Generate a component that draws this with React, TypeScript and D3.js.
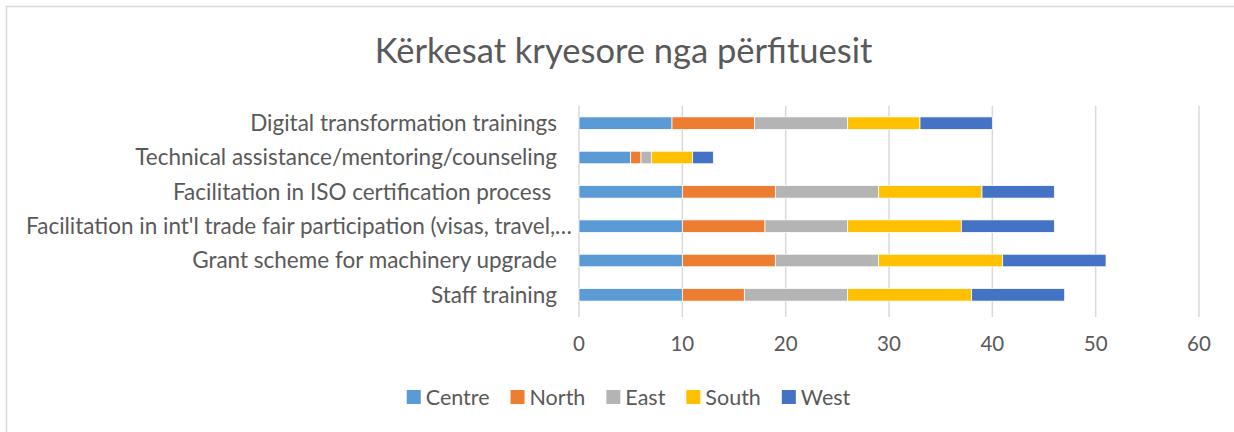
import React, { useEffect, useRef } from "react";
import * as d3 from "d3";

const title = "Kërkesat kryesore nga përfituesit";
const categories = [
  "Digital transformation trainings",
  "Technical assistance/mentoring/counseling",
  "Facilitation in ISO certification process ",
  "Facilitation in int'l trade fair participation (visas, travel,…",
  "Grant scheme for machinery upgrade",
  "Staff training",
];
const seriesNames = ["Centre", "North", "East", "South", "West"];
const centre = [9, 5, 10, 10, 10, 10];
const north = [8, 1, 9, 8, 9, 6];
const east = [9, 1, 10, 8, 10, 10];
const south = [7, 4, 10, 11, 12, 12];
const west = [7, 2, 7, 9, 10, 9];
const xTicks = [0, 10, 20, 30, 40, 50, 60];
const colors = ["#5B9BD5", "#ED7D31", "#B4B4B4", "#FFC000", "#4472C4"];

const W = 1234;
const H = 432;
const FONT = "Lato, 'Open Sans', sans-serif";
const TXT = "#595959";

export default function App() {
  const ref = useRef<SVGSVGElement>(null);
  useEffect(() => {
    const svg = d3.select(ref.current);
    svg.selectAll("*").remove();

    // chart border
    svg.append("rect").attr("x", 6.5).attr("y", 6.5).attr("width", W + 20).attr("height", H + 20)
      .attr("fill", "#fff").attr("stroke", "#d9d9d9").attr("stroke-width", 1.5);

    const x = d3.scaleLinear().domain([0, 60]).range([579, 1199]);
    const y = d3.scaleBand<string>().domain(categories).range([106, 312]).paddingInner(0.635).paddingOuter(0.3175);

    // title
    svg.append("text").attr("x", 623.5).attr("y", 63).attr("text-anchor", "middle")
      .attr("font-family", FONT).attr("font-size", 34.5).attr("fill", TXT).text(title);

    // gridlines
    svg.append("g").selectAll("line").data(xTicks).join("line")
      .attr("x1", (d) => x(d)).attr("x2", (d) => x(d)).attr("y1", 106).attr("y2", 317)
      .attr("stroke", "#d9d9d9").attr("stroke-width", 1.5);

    // tick labels
    svg.append("g").selectAll("text").data(xTicks).join("text")
      .attr("x", (d) => x(d)).attr("y", 351).attr("text-anchor", "middle")
      .attr("font-family", FONT).attr("font-size", 20.5).attr("fill", TXT).text((d) => String(d));

    // category labels
    svg.append("g").selectAll("text").data(categories).join("text")
      .attr("x", (d, i) => (i === 3 ? 572 : 557)).attr("y", (d) => (y(d) as number) + y.bandwidth() / 2)
      .attr("dy", "0.35em").attr("text-anchor", "end").attr("xml:space", "preserve")
      .style("white-space", "pre")
      .attr("font-family", FONT).attr("font-size", 22.5).attr("fill", TXT).text((d) => d);

    // stacked bars
    const rows = categories.map((c, i) => ({
      cat: c, Centre: centre[i], North: north[i], East: east[i], South: south[i], West: west[i],
    }));
    const stack = d3.stack<any>().keys(seriesNames)(rows);
    svg.append("g").selectAll("g").data(stack).join("g")
      .attr("fill", (d, i) => colors[i])
      .selectAll("rect").data((d) => d).join("rect")
      .attr("x", (d) => x(d[0])).attr("width", (d) => x(d[1]) - x(d[0]))
      .attr("y", (d: any) => y(d.data.cat) as number).attr("height", y.bandwidth())
      .attr("stroke", "#ffffff").attr("stroke-width", 0.75);

    // legend
    const lg = svg.append("g");
    const items = lg.selectAll("g").data(seriesNames).join("g");
    items.append("rect").attr("width", 14).attr("height", 14).attr("y", -7)
      .attr("fill", (d, i) => colors[i]);
    items.append("text").attr("x", 19).attr("dy", "0.35em")
      .attr("font-family", FONT).attr("font-size", 21.5).attr("fill", TXT).text((d) => d);
    let cx = 0;
    const gap = 21;
    items.each(function () {
      const g = d3.select(this);
      const tw = (g.select("text").node() as SVGTextElement).getComputedTextLength();
      g.attr("transform", `translate(${cx},397)`);
      cx += 19 + tw + gap;
    });
    const total = cx - gap;
    lg.attr("transform", `translate(${628.5 - total / 2},0)`);
  }, []);

  return (
    <div style={{ position: "absolute", left: 0, top: 0 }}>
      <svg ref={ref} width={W} height={H} style={{ display: "block" }} />
    </div>
  );
}
